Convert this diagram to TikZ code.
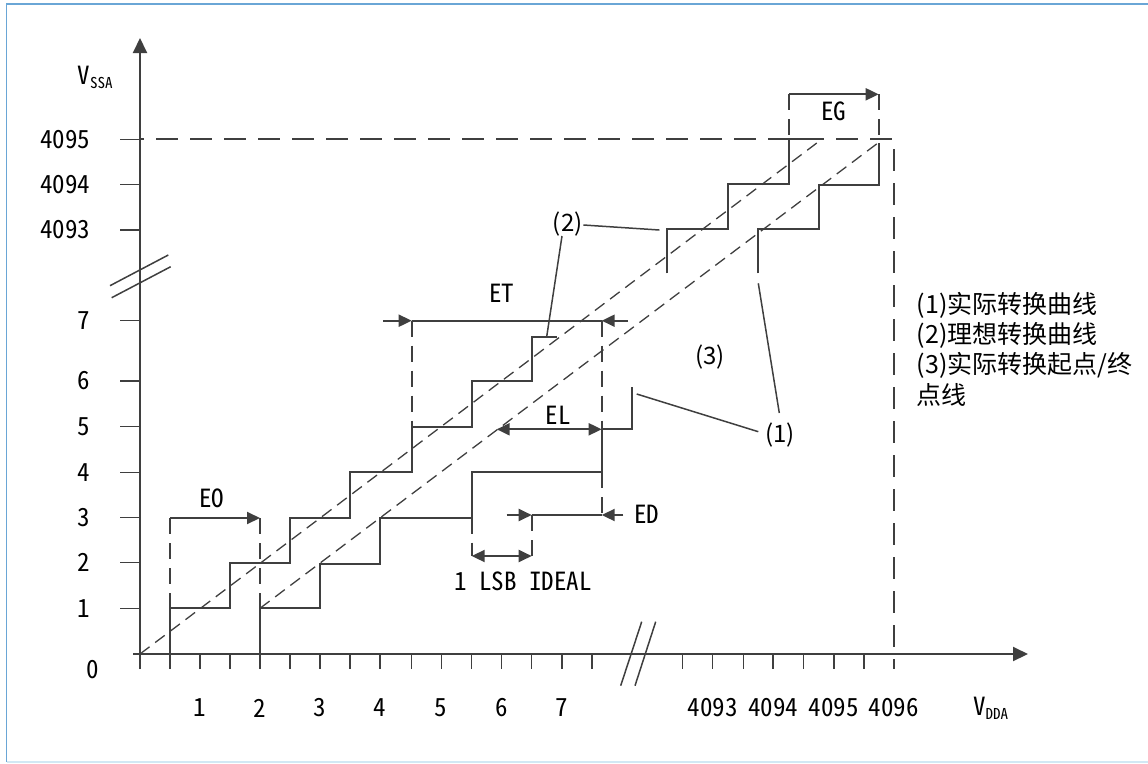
\documentclass[tikz,border=0pt]{standalone}
\usepackage{fontspec}
\setmainfont{Noto Sans CJK SC}[RawFeature=+hwid]
\newfontfamily\cjk{Noto Sans CJK SC}
\usetikzlibrary{arrows.meta}
\definecolor{ln}{HTML}{3F3F3F}
\definecolor{frameblue}{HTML}{6AA6D6}
\definecolor{framelight}{HTML}{D2E8F4}
\begin{document}
\begin{tikzpicture}[x=1pt,y=-1pt,
  axis/.style={line width=2pt,draw=ln},
  stair/.style={line width=2pt,draw=ln},
  bigdash/.style={line width=1.8pt,draw=ln,dash pattern=on 16pt off 9pt},
  framedash/.style={line width=1.8pt,draw=ln,dash pattern=on 22pt off 12pt,dash phase=-16pt},
  diagdash/.style={line width=1.3pt,draw=ln,dash pattern=on 12pt off 7pt},
  tickln/.style={line width=1.5pt,draw=ln},
  dimln/.style={line width=2pt,draw=ln},
  arr/.style={-{Triangle[length=13pt,width=12pt]}},
  darr/.style={{Triangle[length=13pt,width=12pt]}-{Triangle[length=13pt,width=12pt]}},
  num/.style={font=\fontsize{25}{25}\selectfont, text=black, inner sep=0pt},
  plab/.style={font=\cjk\fontsize{24}{24}\selectfont, text=black, inner sep=0pt},
  leg/.style={font=\cjk\fontsize{25}{25}\selectfont, text=black, anchor=west, inner sep=0pt},
  leader/.style={line width=1.5pt,draw=ln},
]
\useasboundingbox (0,0) rectangle (1148,763);
% frame
\draw[frameblue,line width=1.5pt] (6.5,762) -- (6.5,4) -- (1148,4);
\draw[framelight,line width=1.5pt] (6.5,762) -- (1148,762);

% axes
\draw[axis,-{Triangle[length=15pt,width=14pt]}] (140,669) -- (140,38);
\draw[axis,-{Triangle[length=15pt,width=14pt]}] (133,654) -- (1028,654);

% y ticks
\foreach \yy in {139.3,184.3,230,320.7,381,426.7,472.3,517.5,562.7,608.3}
  \draw[tickln] (120,\yy) -- (140,\yy);
% x ticks
\foreach \xx in {170,200,230,260,290,320,350,380,411.7,441.7,471.7,501.7,531.7,562,592,682.7,712.7,743.3,773,803.3,834,864}
  \draw[tickln] (\xx,654) -- (\xx,669);

% axis breaks
\draw[tickln] (110,285.7) -- (168.3,255);
\draw[tickln] (111.7,297.7) -- (170.7,266.7);
\draw[tickln] (620.7,685.7) -- (641.7,621.7);
\draw[tickln] (635,685.7) -- (655.7,621.7);

% y labels
\node[num,anchor=east] (y4095) at (90.5,139.3) {4095};
\node[num,anchor=east] (y4094) at (90.5,184.3) {4094};
\node[num,anchor=east] (y4093) at (90.5,230) {4093};
\node[num,anchor=east] (y7) at (90.5,320.7) {7};
\node[num,anchor=east] (y6) at (90.5,381) {6};
\node[num,anchor=east] (y5) at (90.5,426.7) {5};
\node[num,anchor=east] (y4) at (90.5,472.3) {4};
\node[num,anchor=east] (y3) at (90.5,517.5) {3};
\node[num,anchor=east] (y2) at (90.5,562.7) {2};
\node[num,anchor=east] (y1) at (90.5,608.3) {1};
\node[num] (y0) at (93,669.5) {0};
\node[num] (vssa) at (95,77) {V\raisebox{-4pt}{\fontsize{15}{15}\selectfont SSA}};

% x labels
\node[num] (x1) at (200,708) {1};
\node[num] (x2) at (260,708) {2};
\node[num] (x3) at (320,708) {3};
\node[num] (x4) at (380,708) {4};
\node[num] (x5) at (441,708) {5};
\node[num] (x6) at (501.7,708) {6};
\node[num] (x7) at (562,708) {7};
\node[num] (x4093) at (712.7,708) {4093};
\node[num] (x4094) at (773,708) {4094};
\node[num] (x4095) at (833.5,708) {4095};
\node[num] (x4096) at (893.5,708) {4096};
\node[num] (vdda) at (990.5,708) {V\raisebox{-4pt}{\fontsize{15}{15}\selectfont DDA}};

% full-scale dashed frame
\draw[framedash] (140,139.3) -- (894,139.3) -- (894,669);

% diagonals
\draw[diagdash] (140,654) -- (821.7,139.3);
\draw[diagdash] (260,608.3) -- (878.3,142.7);

% ideal staircase (2)
\draw[stair] (170,654) -- (170,608.3) -- (230,608.3) -- (230,562.7) -- (290,562.7) -- (290,517.5)
  -- (350,517.5) -- (350,472.3) -- (411.7,472.3) -- (411.7,426.7) -- (471.7,426.7) -- (471.7,381)
  -- (531.7,381) -- (531.7,336.7) -- (556.7,336.7);
\draw[stair] (667.3,273.3) -- (667.3,228.7) -- (728.3,228.7) -- (728.3,184.3) -- (789,184.3)
  -- (789,139.3) -- (821.7,139.3);

% actual staircase (1)
\draw[stair] (260,654) -- (260,608.3) -- (320,608.3) -- (320,563.5) -- (380,563.5) -- (380,517.5)
  -- (471.7,517.5) -- (471.7,472.3) -- (601.7,472.3) -- (601.7,429.3) -- (631.7,429.3) -- (631.7,386.7);
\draw[stair] (758.3,273.3) -- (758.3,229.3) -- (819,229.3) -- (819,184.7) -- (878.7,184.7) -- (878.7,142.7);

% EO
\draw[dimln,arr] (170,518) -- (260,518);
\draw[bigdash] (170,518) -- (170,608.3);
\draw[bigdash] (260,518) -- (260,608.3);
\node[num] (eo) at (211.7,498) {EO};

% ET
\draw[dimln] (411.7,320.7) -- (601.7,320.7);
\coordinate (etl) at (383,320.7);
\coordinate (etr) at (628,320.7);
\draw[dimln,arr] (etl) -- (411.7,320.7);
\draw[dimln,arr] (etr) -- (601.7,320.7);
\draw[bigdash] (411.7,320.7) -- (411.7,426.7);
\draw[bigdash] (601.7,320.7) -- (601.7,429.3);
\node[num] (et) at (501.7,293) {ET};

% EL
\draw[dimln,darr] (496.7,429.3) -- (601.7,429.3);
\node[num] (el) at (558.3,415.5) {EL};

% ED
\draw[bigdash] (601.7,472.3) -- (601.7,515);
\draw[dimln] (531.7,515) -- (601.7,515);
\coordinate (edl) at (506.7,515);
\coordinate (edr) at (623.3,515);
\draw[dimln,arr] (edl) -- (531.7,515);
\draw[dimln,arr] (edr) -- (601.7,515);
\node[num] (ed) at (646.7,514.5) {ED};

% 1 LSB ideal
\draw[bigdash] (531.7,515) -- (531.7,556);
\draw[bigdash] (471.7,517.5) -- (471.7,556);
\draw[dimln,darr] (471.7,556) -- (531.7,556);
\node[num] (lsb) at (523,581) {1 LSB IDEAL};

% EG
\draw[bigdash] (789,94.3) -- (789,139.3);
\draw[bigdash] (878.7,94.3) -- (878.7,142.7);
\draw[dimln,arr] (789,94.3) -- (878.7,94.3);
\node[num] (eg) at (833.5,111) {EG};

% leaders
\node[plab] (lab2) at (567.7,224.3) {(2)};
\coordinate (l2a) at (659.3,230);
\coordinate (l2b) at (546.7,336.7);
\draw[leader] (583.3,225) -- (l2a);
\draw[leader] (562,236) -- (l2b);
\node[plab] (lab1) at (780,435) {(1)};
\coordinate (l1a) at (636.7,394);
\coordinate (l1b) at (758.3,283.3);
\draw[leader] (l1a) -- (758.3,431.7);
\draw[leader] (l1b) -- (779.3,413);
\node[plab] (lab3) at (710,356.7) {(3)};

% legend
\node[leg] (leg1) at (916.7,305) {(1)实际转换曲线};
\node[leg] (leg2) at (916.7,335) {(2)理想转换曲线};
\node[leg] (leg3) at (916.7,365) {(3)实际转换起点/终};
\node[leg] (leg4) at (916.7,395) {点线};
\end{tikzpicture}
\end{document}
